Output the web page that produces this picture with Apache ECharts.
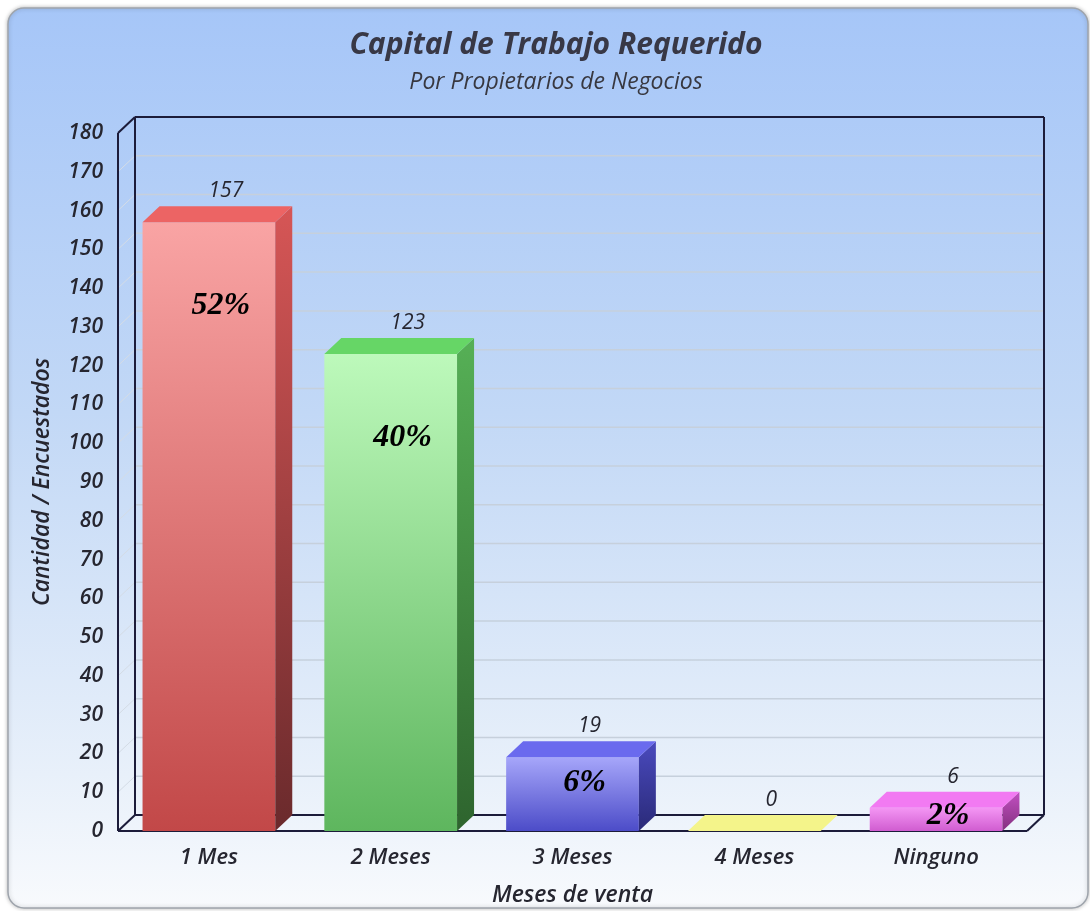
<!DOCTYPE html>
<html>
<head>
<meta charset="utf-8">
<script src="https://cdn.jsdelivr.net/npm/echarts@6/dist/echarts.min.js"></script>
<style>
  html, body { margin: 0; background: #fff; }
  #chart { width: 1090px; height: 911px; }
</style>
</head>
<body>
<div id="chart"></div>
<script>
const categories = ['1 Mes', '2 Meses', '3 Meses', '4 Meses', 'Ninguno']
const counts = [157, 123, 19, 0, 6]
const percents = ['52%', '40%', '6%', '', '2%']
const yTicks = [0, 10, 20, 30, 40, 50, 60, 70, 80, 90, 100, 110, 120, 130, 140, 150, 160, 170, 180]

// front / top / side colours per bar
const barColors = [
  { front: ['#f9a4a4', '#c24848'], top: '#ec6464', side: ['#d65656', '#6a2a2c'] },
  { front: ['#bdf9bb', '#5eb65e'], top: '#66d666', side: ['#56b056', '#2e642e'] },
  { front: ['#a6a6fa', '#4c4cc8'], top: '#6a6aee', side: ['#4a4abe', '#2a2a78'] },
  { front: ['#f6f690', '#eaea70'], top: '#f4f48a', side: ['#d8d860', '#a0a040'] },
  { front: ['#f496f4', '#d05cd0'], top: '#f27af2', side: ['#c250c2', '#84307f'] }
]

const DX = 17, DY = 16
const FONT = '"Open Sans", "DejaVu Sans", sans-serif'
const lineColor = '#1c1c3a'
const textColor = '#262630'

const chart = echarts.init(document.getElementById('chart'))

const renderFrame = (params, api) => {
  const cs = params.coordSys
  const L = cs.x, R = cs.x + cs.width, T = cs.y, B = cs.y + cs.height
  const children = []
  const line = (x1, y1, x2, y2, stroke, w) => children.push({
    type: 'line', shape: { x1, y1, x2, y2 }, style: { stroke, lineWidth: w }
  })
  // back wall + side wall grid
  yTicks.forEach(v => {
    if (v === 0 || v === yTicks[yTicks.length - 1]) return
    const y = api.coord([0, v])[1]
    line(L + DX, y - DY, R + DX, y - DY, '#c6d0dc', 1.5)
    line(L, y, L + DX, y - DY, '#d4dce6', 1)
  })
  line(L, T, L, B, lineColor, 2)
  line(L + DX, T - DY, L + DX, B - DY, lineColor, 2)
  line(L, T, L + DX, T - DY, lineColor, 2)
  line(L, B, L + DX, B - DY, lineColor, 2)
  line(L + DX, T - DY, R + DX, T - DY, lineColor, 2)
  line(R + DX, T - DY, R + DX, B - DY, lineColor, 2)
  line(L + DX, B - DY, R + DX, B - DY, lineColor, 2)
  line(L, B, R, B, lineColor, 2)
  line(R, B, R + DX, B - DY, lineColor, 2)
  return { type: 'group', children }
}

const renderBar = (params, api) => {
  const idx = api.value(0)
  const top = api.coord([idx, api.value(1)])
  const base = api.coord([idx, 0])
  const w = api.size([1, 0])[0] * 0.73
  const x0 = top[0] - w / 2, x1 = top[0] + w / 2
  const yT = top[1], yB = base[1]
  const h = yB - yT
  const c = barColors[idx]
  const grad = (cols) => new echarts.graphic.LinearGradient(0, 0, 0, 1, [
    { offset: 0, color: cols[0] }, { offset: 1, color: cols[1] }
  ])
  const children = []
  if (h > 0.5) {
    children.push({
      type: 'rect', shape: { x: x0, y: yT, width: w, height: h },
      style: { fill: grad(c.front) }
    })
    children.push({
      type: 'polygon',
      shape: { points: [[x1, yT], [x1 + DX, yT - DY], [x1 + DX, yB - DY], [x1, yB]] },
      style: { fill: grad(c.side) }
    })
  }
  children.push({
    type: 'polygon',
    shape: { points: [[x0, yT], [x1, yT], [x1 + DX, yT - DY], [x0 + DX, yT - DY]] },
    style: { fill: c.top }
  })
  children.push({
    type: 'text',
    style: {
      text: String(api.value(1)), x: top[0] + DX, y: yT - DY - 15,
      fill: textColor, font: 'italic 500 21px ' + FONT,
      align: 'center', verticalAlign: 'middle'
    }
  })
  if (percents[idx]) {
    const off = Math.min(h * 0.35, 84)
    children.push({
      type: 'text',
      style: {
        text: percents[idx], x: top[0] + 12, y: yT + off,
        fill: '#000', font: 'italic bold 32px "Liberation Serif", "DejaVu Serif", serif',
        align: 'center', verticalAlign: 'middle'
      }
    })
  }
  return { type: 'group', children }
}

const option = {
  animation: false,
  graphic: {
    elements: [{
      type: 'rect',
      z: -10,
      shape: { x: 8, y: 8, width: 1080, height: 900, r: 16 },
      style: {
        fill: new echarts.graphic.LinearGradient(0, 0, 0, 1, [
          { offset: 0, color: '#a6c6f8' },
          { offset: 0.45, color: '#c2d8f6' },
          { offset: 0.85, color: '#e8f0fa' },
          { offset: 1, color: '#f8fafd' }
        ]),
        stroke: '#9ea4ac',
        lineWidth: 1.5,
        shadowBlur: 4,
        shadowColor: 'rgba(0,0,0,0.25)'
      }
    }]
  },
  title: {
    text: 'Capital de Trabajo Requerido',
    subtext: 'Por Propietarios de Negocios',
    left: 551,
    textAlign: 'center',
    top: 25,
    itemGap: 11,
    textStyle: {
      fontFamily: FONT, fontSize: 30, fontStyle: 'italic', fontWeight: 'bold', color: '#383846'
    },
    subtextStyle: {
      fontFamily: FONT, fontSize: 23, fontStyle: 'italic', fontWeight: 500, color: '#383840'
    }
  },
  grid: { left: 118, top: 133, width: 909, height: 698, outerBoundsMode: 'none', containLabel: false },
  xAxis: {
    type: 'category',
    data: categories,
    name: 'Meses de venta',
    nameLocation: 'middle',
    nameGap: 53,
    nameTextStyle: { fontFamily: FONT, fontSize: 23, fontStyle: 'italic', fontWeight: 600, color: textColor },
    axisLine: { show: false },
    axisTick: { show: false },
    axisLabel: { margin: 16, fontFamily: FONT, fontSize: 22, fontStyle: 'italic', fontWeight: 600, color: textColor }
  },
  yAxis: {
    type: 'value',
    min: 0,
    max: 180,
    interval: 10,
    name: 'Cantidad / Encuestados',
    nameLocation: 'middle',
    nameGap: 64,
    nameTextStyle: { fontFamily: FONT, fontSize: 23, fontStyle: 'italic', fontWeight: 600, color: textColor },
    axisLine: { show: false },
    axisTick: { show: false },
    splitLine: { show: false },
    axisLabel: { margin: 15, fontFamily: FONT, fontSize: 21, fontStyle: 'italic', fontWeight: 600, color: textColor }
  },
  series: [
    {
      type: 'custom',
      z: 1,
      silent: true,
      renderItem: renderFrame,
      data: [[0, 0]],
      encode: { x: 0, y: 1 }
    },
    {
      type: 'custom',
      z: 3,
      renderItem: renderBar,
      data: counts.map((v, i) => [i, v]),
      encode: { x: 0, y: 1 }
    }
  ]
}

chart.setOption(option)
</script>
</body>
</html>
